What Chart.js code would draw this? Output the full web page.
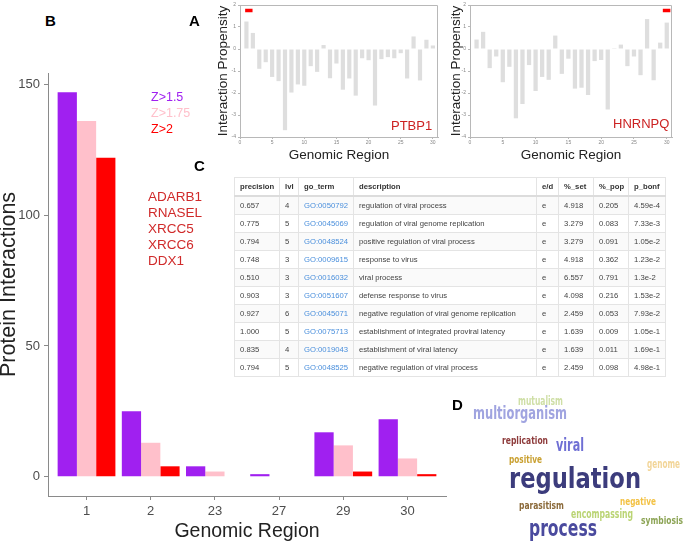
<!DOCTYPE html>
<html>
<head>
<meta charset="utf-8">
<script src="https://cdn.jsdelivr.net/npm/chart.js@4.4.1/dist/chart.umd.min.js"></script>
<style>
  body { margin:0; background:#fff; width:685px; height:543px; overflow:hidden; position:relative; font-family:"Liberation Sans", Arial, sans-serif; }
  .wrap { position:absolute; }
  .panel { position:absolute; font-weight:bold; font-size:15px; line-height:16px; color:#000; }
  .note { position:absolute; line-height:16px; white-space:nowrap; }
  #goTable { position:absolute; left:234px; top:177px; width:431px; border-collapse:collapse; table-layout:fixed; font-size:7.7px; color:#444; }
  #goTable th, #goTable td { height:17px; padding:0 0 0 5px; border:1px solid #e4e4e4; text-align:left; white-space:nowrap; overflow:hidden; }
  #goTable th { color:#333; font-weight:bold; border-bottom:2px solid #dcdcdc; }
  #goTable tbody tr:nth-child(odd) td { background:#fafafa; }
  #goTable .go { color:#4a8fdc; }
  #cloud { position:absolute; left:0; top:0; }
</style>
</head>
<body>

<div class="wrap" style="left:0;top:60px;width:455px;height:483px"><canvas id="barChart" width="455" height="483"></canvas></div>
<div class="wrap" style="left:190px;top:0;width:250px;height:170px"><canvas id="ptbp1Chart" width="250" height="170"></canvas></div>
<div class="wrap" style="left:440px;top:0;width:245px;height:170px"><canvas id="hnrnpqChart" width="245" height="170"></canvas></div>

<div class="panel" style="left:45px;top:13px">B</div>
<div class="panel" style="left:189px;top:13px">A</div>
<div class="panel" style="left:194px;top:158px">C</div>
<div class="panel" style="left:452px;top:397px">D</div>

<div class="note" style="left:151px;top:89px;font-size:12.5px">
  <div style="color:#a020f0">Z&gt;1.5</div>
  <div style="color:#ffc0cb">Z&gt;1.75</div>
  <div style="color:#ff0000">Z&gt;2</div>
</div>
<div class="note" id="genes" style="left:148px;top:189px;font-size:13.5px;color:#d02a2a"></div>
<div class="note" style="left:391px;top:118px;font-size:13px;color:#cc2222">PTBP1</div>
<div class="note" style="left:613px;top:116px;font-size:13px;color:#cc2222">HNRNPQ</div>

<table id="goTable">
  <colgroup>
    <col style="width:45px"><col style="width:19px"><col style="width:55px"><col style="width:183px">
    <col style="width:22px"><col style="width:35px"><col style="width:35px"><col style="width:37px">
  </colgroup>
  <thead><tr><th>precision</th><th>lvl</th><th>go_term</th><th>description</th><th>e/d</th><th>%_set</th><th>%_pop</th><th>p_bonf</th></tr></thead>
  <tbody></tbody>
</table>

<svg id="cloud" width="685" height="543"></svg>

<script>
// panel B: protein interactions per genomic region
const regions = ['1', '2', '23', '27', '29', '30'];
const z150 = [147, 25, 4, 1, 17, 22];
const z175 = [136, 13, 2, 0, 12, 7];
const z200 = [122, 4, 0, 0, 2, 1];
const genes = ['ADARB1', 'RNASEL', 'XRCC5', 'XRCC6', 'DDX1'];

// panel A: interaction propensity along the genome
const positions = [1, 2, 3, 4, 5, 6, 7, 8, 9, 10, 11, 12, 13, 14, 15, 16, 17, 18, 19, 20, 21, 22, 23, 24, 25, 26, 27, 28, 29, 30];
const ptbp1 = [1.25, 0.73, -0.9, -0.6, -1.27, -1.46, -3.69, -1.98, -1.61, -1.67, -0.78, -1.04, 0.18, -1.33, -0.66,
               -1.85, -1.34, -2.12, -0.42, -0.51, -2.57, -0.46, -0.37, -0.42, -0.19, -1.34, 0.57, -1.43, 0.42, 0.16];
const hnrnpq = [0.43, 0.78, -0.87, -0.34, -1.51, -0.81, -3.15, -2.5, -0.73, -1.91, -1.27, -1.4, 0.61, -1.13, -0.44,
                -1.8, -1.76, -2.09, -0.55, -0.5, -2.75, 0.04, 0.2, -0.78, -0.34, -1.19, 1.36, -1.42, 0.29, 1.2];
const markLevel = 1.75;
const ptbp1Mark = [0.8, 1.95];
const hnrnpqMark = [29.4, 30.55];

// panel C: GO enrichment
const goPrecision = ['0.657', '0.775', '0.794', '0.748', '0.510', '0.903', '0.927', '1.000', '0.835', '0.794'];
const goLevel = [4, 5, 5, 3, 3, 3, 6, 5, 4, 5];
const goTerm = ['GO:0050792', 'GO:0045069', 'GO:0048524', 'GO:0009615', 'GO:0016032', 'GO:0051607', 'GO:0045071', 'GO:0075713', 'GO:0019043', 'GO:0048525'];
const goDesc = ['regulation of viral process', 'regulation of viral genome replication', 'positive regulation of viral process',
                'response to virus', 'viral process', 'defense response to virus', 'negative regulation of viral genome replication',
                'establishment of integrated proviral latency', 'establishment of viral latency', 'negative regulation of viral process'];
const goEd = ['e', 'e', 'e', 'e', 'e', 'e', 'e', 'e', 'e', 'e'];
const goSet = ['4.918', '3.279', '3.279', '4.918', '6.557', '4.098', '2.459', '1.639', '1.639', '2.459'];
const goPop = ['0.205', '0.083', '0.091', '0.362', '0.791', '0.216', '0.053', '0.009', '0.011', '0.098'];
const goBonf = ['4.59e-4', '7.33e-3', '1.05e-2', '1.23e-2', '1.3e-2', '1.53e-2', '7.93e-2', '1.05e-1', '1.69e-1', '4.98e-1'];

// panel D: word cloud
const cloudWords = ['mutualism', 'multiorganism', 'replication', 'viral', 'positive', 'genome', 'regulation', 'parasitism', 'negative', 'encompassing', 'symbiosis', 'process'];
const cloudLayout = [
  [518, 405, 45, 12.5, '#cfdfa6'], [473, 419, 94, 17, '#a0a4e0'], [502, 444, 46, 11, '#8e3c3c'],
  [556, 451, 28, 17.5, '#6f6fd4'], [509, 463, 33, 11, '#c9a030'], [647, 468, 33, 12, '#f2d598'],
  [509, 488, 132, 29, '#3c3c7c'], [519, 509, 45, 11, '#8b6a3a'], [620, 505, 36, 11, '#f3c245'],
  [571, 518, 62, 11.5, '#bad473'], [641, 524, 42, 11, '#8ca455'], [529, 536, 68, 23, '#4a4a9e']
];

Chart.defaults.font.family = '"Liberation Sans", Arial, sans-serif';
Chart.defaults.animation = false;

document.getElementById('genes').innerHTML = genes.map(g => '<div>' + g + '</div>').join('');

const barAxis = '#8a8a8a';
new Chart(document.getElementById('barChart'), {
    type: 'bar',
    data: {
        datasets: [
            { label: 'Z>1.5', data: regions.map((r, i) => ({ x: i + 1, y: z150[i] })), backgroundColor: '#a020f0' },
            { label: 'Z>1.75', data: regions.map((r, i) => ({ x: i + 1, y: z175[i] })), backgroundColor: '#ffc0cb' },
            { label: 'Z>2', data: regions.map((r, i) => ({ x: i + 1, y: z200[i] })), backgroundColor: '#ff0000' }
        ]
    },
    options: {
        responsive: false,
        categoryPercentage: 0.9,
        barPercentage: 1.0,
        layout: { padding: { top: 13, right: 9, left: 0, bottom: 0 } },
        plugins: { legend: { display: false }, tooltip: { enabled: false } },
        scales: {
            x: {
                type: 'linear', min: 0.4, max: 6.6, offset: false,
                afterBuildTicks: s => { s.ticks = regions.map((r, i) => ({ value: i + 1 })); },
                afterFit: s => { s.height = 47; },
                ticks: { callback: v => regions[v - 1], color: '#4d4d4d', font: { size: 13 }, padding: 4, maxRotation: 0 },
                grid: { display: true, drawOnChartArea: false, offset: false, tickLength: 4, color: barAxis },
                border: { display: true, color: barAxis },
                title: { display: true, text: 'Genomic Region', color: '#222', font: { size: 19.5 }, padding: { top: 0, bottom: 0 } }
            },
            y: {
                min: -7.35, max: 154.35,
                afterBuildTicks: s => { s.ticks = [0, 50, 100, 150].map(v => ({ value: v })); },
                afterFit: s => { s.width = 48; },
                ticks: { color: '#4d4d4d', font: { size: 13 }, padding: 4 },
                grid: { display: true, drawOnChartArea: false, tickLength: 4, color: barAxis },
                border: { display: true, color: barAxis },
                title: { display: true, text: 'Protein Interactions', color: '#222', font: { size: 21.5, lineHeight: 1 }, padding: { top: -2, bottom: 0 } }
            }
        }
    }
});

const frame = {
    id: 'frame',
    afterDraw(chart) {
        const a = chart.chartArea, ctx = chart.ctx;
        ctx.save();
        ctx.strokeStyle = '#b8b8b8';
        ctx.lineWidth = 1;
        ctx.beginPath();
        ctx.moveTo(a.left, a.top + 0.5); ctx.lineTo(a.right - 0.5, a.top + 0.5); ctx.lineTo(a.right - 0.5, a.bottom);
        ctx.stroke();
        ctx.restore();
    }
};

function propensityChart(id, values, mark, yWidth, titlePad, padRight) {
    new Chart(document.getElementById(id), {
        type: 'bar',
        data: {
            datasets: [
                { type: 'line', data: mark.map(x => ({ x: x, y: markLevel })), borderColor: '#ff0000', borderWidth: 3.5, pointRadius: 0 },
                { data: positions.map((p, i) => ({ x: p, y: values[i] })), backgroundColor: '#dedede' }
            ]
        },
        options: {
            responsive: false,
            categoryPercentage: 1,
            barPercentage: 0.65,
            layout: { padding: { top: 2, right: padRight, left: 0, bottom: 0 } },
            plugins: { legend: { display: false }, tooltip: { enabled: false } },
            scales: {
                x: {
                    type: 'linear', min: 0, max: 30.8, offset: false,
                    afterFit: s => { s.height = 33; },
                    ticks: { stepSize: 5, includeBounds: false, color: '#888', font: { size: 5 }, padding: 1, maxRotation: 0 },
                    grid: { drawOnChartArea: false, offset: false, tickLength: 2, color: '#b8b8b8' },
                    border: { color: '#b8b8b8' },
                    title: { display: true, text: 'Genomic Region', color: '#222', font: { size: 13.5 }, padding: { top: 0, bottom: 7 } }
                },
                y: {
                    min: -4, max: 2,
                    afterFit: s => { s.width = yWidth; },
                    ticks: { stepSize: 1, color: '#888', font: { size: 5 }, padding: 2 },
                    grid: { drawOnChartArea: false, tickLength: 2, color: '#b8b8b8' },
                    border: { color: '#b8b8b8' },
                    title: { display: true, text: 'Interaction Propensity', color: '#222', font: { size: 13.5 }, padding: { top: titlePad, bottom: 0 } }
                }
            }
        },
        plugins: [frame]
    });
}
propensityChart('ptbp1Chart', ptbp1, ptbp1Mark, 50, 25, 2);
propensityChart('hnrnpqChart', hnrnpq, hnrnpqMark, 30, 8, 13);

const tbody = document.querySelector('#goTable tbody');
goTerm.forEach((t, i) => {
    const tr = document.createElement('tr');
    tr.innerHTML = '<td>' + goPrecision[i] + '</td><td>' + goLevel[i] + '</td><td class="go">' + t + '</td><td>' + goDesc[i] +
        '</td><td>' + goEd[i] + '</td><td>' + goSet[i] + '</td><td>' + goPop[i] + '</td><td>' + goBonf[i] + '</td>';
    tbody.appendChild(tr);
});

const svg = document.getElementById('cloud');
cloudWords.forEach((w, i) => {
    const [x, y, len, size, color] = cloudLayout[i];
    const t = document.createElementNS('http://www.w3.org/2000/svg', 'text');
    t.setAttribute('x', x);
    t.setAttribute('y', y);
    t.setAttribute('textLength', len);
    t.setAttribute('lengthAdjust', 'spacingAndGlyphs');
    t.setAttribute('fill', color);
    t.setAttribute('font-size', size);
    t.setAttribute('font-weight', 'bold');
    t.setAttribute('font-family', '"Liberation Sans Narrow", "DejaVu Sans Condensed", "Liberation Sans", sans-serif');
    t.textContent = w;
    svg.appendChild(t);
});
</script>
</body>
</html>
